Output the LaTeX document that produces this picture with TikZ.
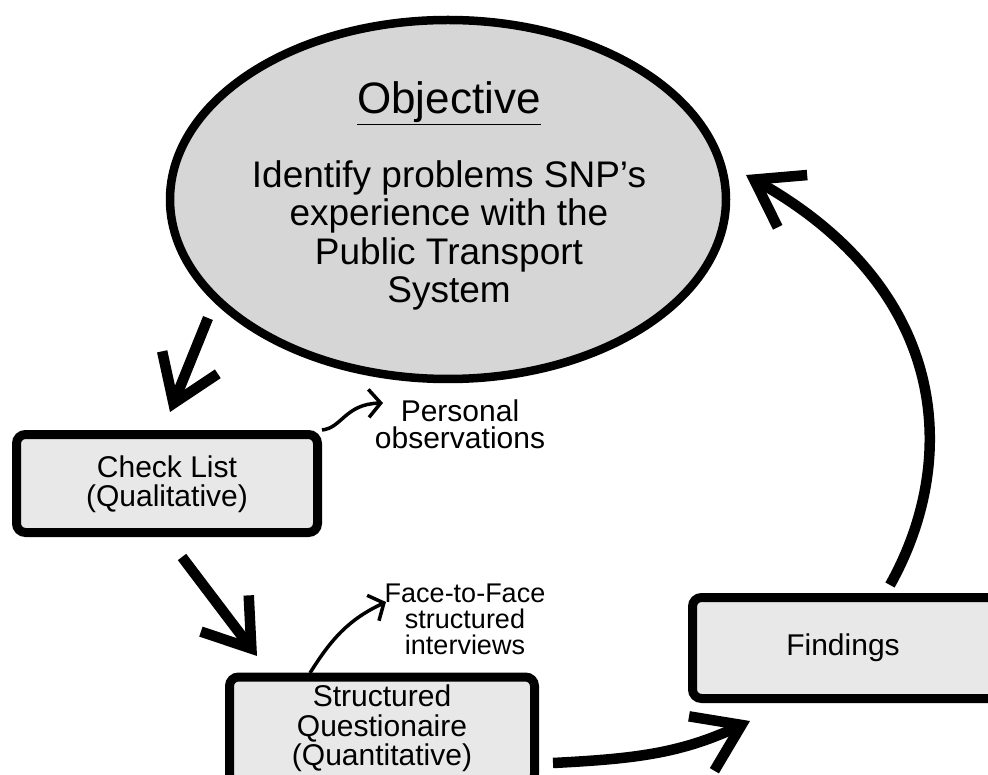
\documentclass[tikz,border=0pt]{standalone}
\usepackage{fontspec}
\setmainfont{Liberation Sans}
\usetikzlibrary{arrows.meta,shapes.geometric}
\begin{document}
\begin{tikzpicture}[x=1pt,y=-1pt,
  stepbox/.style={draw=black, line width=9pt, rounded corners=9pt, fill=black!9, inner sep=0pt},
  goalshape/.style={draw=black, ellipse, line width=8.5pt, fill=black!16, inner sep=0pt},
  bigarrow/.style={line width=10.5pt, -{Straight Barb[length=44pt,width=60pt]}},
  thinarrow/.style={line width=3.5pt, -{Straight Barb[length=12pt,width=28pt]}},
  txt/.style={align=center, inner sep=0pt}
]
\clip (0,0) rectangle (988,775);

% objective bubble
\node[goalshape, minimum width=556pt, minimum height=359pt] (obj) at (448,199.5) {};
\node[txt, anchor=base, font=\fontsize{44}{50}\selectfont] (objtitle) at (449,114) {\underline{Objective}};
\node[txt, anchor=north, font=\fontsize{37}{38.5}\selectfont] (objtext) at (449,160)
  {Identify problems SNP’s\\experience with the\\Public Transport\\System};

% method boxes
\node[stepbox, minimum width=301pt, minimum height=98pt] (chk) at (167,483.5) {};
\node[txt, anchor=north, font=\fontsize{30}{28.5}\selectfont] (chktext) at (167,456) {Check List\\(Qualitative)};

\node[stepbox, minimum width=305pt, minimum height=106pt] (sq) at (382,730) {};
\node[txt, anchor=north, font=\fontsize{30}{29.5}\selectfont] (sqtext) at (382,685) {Structured\\Questionaire\\(Quantitative)};

\node[stepbox, minimum width=310pt, minimum height=101pt] (fnd) at (847.5,648) {};
\node[txt, font=\fontsize{30}{34}\selectfont] (fndtext) at (843,648) {Findings};

% side notes
\node[txt, anchor=north, font=\fontsize{30}{27}\selectfont] (pers) at (460,400) {Personal\\observations};
\node[txt, anchor=north, font=\fontsize{27}{26}\selectfont] (f2f) at (465,584) {Face-to-Face\\structured\\interviews};

% connector end points
\coordinate (a1s) at (208,318);  \coordinate (a1e) at (170,412);
\coordinate (a2s) at (182,557);  \coordinate (a2e) at (257,656);
\coordinate (a3s) at (553,763);  \coordinate (a3e) at (750,721);
\coordinate (a4s) at (890,585);  \coordinate (a4e) at (746,175);
\coordinate (t1e) at (383,403);
\coordinate (t2s) at (310,673);  \coordinate (t2e) at (386,602);

% main flow
\draw[bigarrow] (a1s) -- (a1e);
\draw[bigarrow] (a2s) -- (a2e);
\draw[bigarrow] (a3s) to[out=3,in=205] (a3e);
\draw[bigarrow] (a4s) .. controls (960,460) and (950,290) .. (a4e);

% notes
\draw[thinarrow] (chk.north east) .. controls (342,428) and (345,404) .. (t1e);
\draw[thinarrow] (t2s) to[out=58,in=205] (t2e);
\end{tikzpicture}
\end{document}
